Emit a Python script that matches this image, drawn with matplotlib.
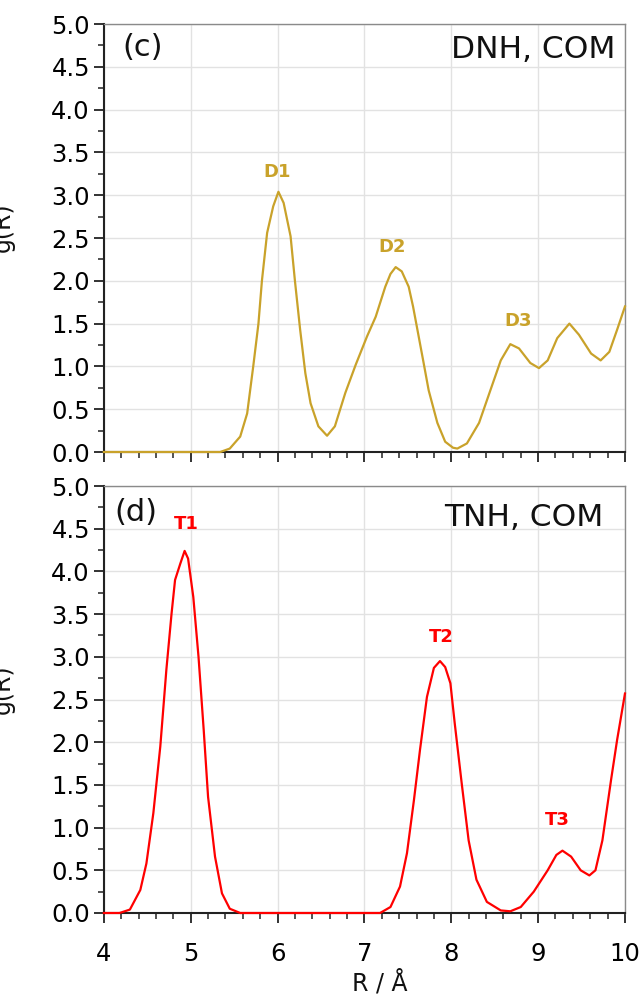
import numpy as np
import matplotlib
matplotlib.use('Agg')
import matplotlib.pyplot as plt
from matplotlib.ticker import MultipleLocator, FormatStrFormatter

# DNH, COM  (panel c)
r_dnh = [4.0, 5.0, 5.34, 5.45, 5.57, 5.65, 5.72, 5.78, 5.82, 5.88, 5.95, 6.01, 6.07, 6.15,
         6.20, 6.26, 6.32, 6.38, 6.47, 6.57, 6.66, 6.78, 6.90, 7.03, 7.13, 7.24, 7.30, 7.36,
         7.43, 7.51, 7.56, 7.61, 7.68, 7.74, 7.84, 7.93, 8.02, 8.07, 8.18, 8.32, 8.45, 8.57,
         8.68, 8.78, 8.91, 9.01, 9.11, 9.22, 9.36, 9.47, 9.61, 9.72, 9.82, 9.91, 10.0]
g_dnh = [0.0, 0.0, 0.0, 0.04, 0.18, 0.45, 1.0, 1.50, 2.0, 2.56, 2.87, 3.04, 2.91, 2.52,
         2.0, 1.43, 0.92, 0.57, 0.30, 0.19, 0.30, 0.69, 1.02, 1.35, 1.58, 1.93, 2.08, 2.16,
         2.11, 1.93, 1.70, 1.43, 1.05, 0.72, 0.34, 0.12, 0.05, 0.04, 0.10, 0.34, 0.72, 1.07,
         1.26, 1.21, 1.04, 0.98, 1.07, 1.33, 1.50, 1.37, 1.15, 1.07, 1.17, 1.43, 1.70]

# TNH, COM  (panel d)
r_tnh = [4.0, 4.18, 4.30, 4.42, 4.49, 4.57, 4.65, 4.72, 4.78, 4.82, 4.88, 4.93, 4.97, 5.03,
         5.09, 5.15, 5.20, 5.28, 5.36, 5.45, 5.57, 7.18, 7.30, 7.41, 7.49, 7.57, 7.64, 7.72,
         7.80, 7.87, 7.93, 7.99, 8.04, 8.12, 8.20, 8.29, 8.41, 8.57, 8.68, 8.80, 8.95, 9.11,
         9.21, 9.28, 9.38, 9.49, 9.59, 9.66, 9.74, 9.84, 9.91, 10.0]
g_tnh = [0.0, 0.0, 0.04, 0.27, 0.58, 1.17, 1.95, 2.85, 3.51, 3.90, 4.09, 4.24, 4.15, 3.70,
         3.0, 2.14, 1.36, 0.66, 0.23, 0.05, 0.0, 0.0, 0.07, 0.31, 0.70, 1.32, 1.91, 2.53,
         2.87, 2.95, 2.88, 2.69, 2.22, 1.52, 0.85, 0.39, 0.13, 0.03, 0.02, 0.07, 0.25, 0.50,
         0.68, 0.73, 0.66, 0.50, 0.44, 0.50, 0.85, 1.56, 2.03, 2.57]

dnh_peaks = ['D1', 'D2', 'D3']
dnh_peak_pos = [(6.0, 3.27), (7.32, 2.39), (8.77, 1.53)]
tnh_peaks = ['T1', 'T2', 'T3']
tnh_peak_pos = [(4.95, 4.55), (7.89, 3.23), (9.22, 1.09)]

gold = '#C9A22A'
red = '#FF0000'

plt.rcParams['font.family'] = ['DejaVu Sans']

fig = plt.figure(figsize=(6.41, 10), dpi=100)
ax_c = fig.add_axes([0.162, 0.548, 0.813, 0.428])
ax_d = fig.add_axes([0.162, 0.087, 0.813, 0.427])


def style_axes(ax, show_xlabels):
    ax.set_xlim(4, 10)
    ax.set_ylim(0, 5)
    ax.xaxis.set_major_locator(MultipleLocator(1))
    ax.xaxis.set_minor_locator(MultipleLocator(0.2))
    ax.yaxis.set_major_locator(MultipleLocator(0.5))
    ax.yaxis.set_minor_locator(MultipleLocator(0.25))
    ax.yaxis.set_major_formatter(FormatStrFormatter('%.1f'))
    ax.grid(True, which='major', color='#e2e2e2', linewidth=1.0)
    ax.set_axisbelow(True)
    ax.tick_params(which='major', direction='out', length=7, width=1.3, labelsize=17.5, color='#222222')
    ax.tick_params(which='minor', direction='out', length=4.5, width=1.1, color='#222222')
    ax.tick_params(axis='y', pad=3)
    ax.tick_params(axis='x', pad=14)
    if not show_xlabels:
        ax.tick_params(axis='x', labelbottom=False)
    for s in ['left', 'bottom']:
        ax.spines[s].set_color('#222222')
        ax.spines[s].set_linewidth(1.5)
    for s in ['top', 'right']:
        ax.spines[s].set_color('#8a8a8a')
        ax.spines[s].set_linewidth(1.0)


style_axes(ax_c, False)
style_axes(ax_d, True)

ax_c.plot(r_dnh, g_dnh, color=gold, linewidth=1.6, clip_on=False, zorder=3)
ax_d.plot(r_tnh, g_tnh, color=red, linewidth=1.6, clip_on=False, zorder=3)

for lab, (x, y) in zip(dnh_peaks, dnh_peak_pos):
    ax_c.text(x, y, lab, color=gold, fontsize=13, fontweight='bold', ha='center', va='center')
for lab, (x, y) in zip(tnh_peaks, tnh_peak_pos):
    ax_d.text(x, y, lab, color=red, fontsize=13, fontweight='bold', ha='center', va='center')

ax_c.text(0.035, 0.946, '(c)', transform=ax_c.transAxes, fontsize=22, ha='left', va='center', color='#111111')
ax_c.text(0.981, 0.94, 'DNH, COM', transform=ax_c.transAxes, fontsize=22.5, ha='right', va='center', color='#111111')
ax_d.text(0.021, 0.937, '(d)', transform=ax_d.transAxes, fontsize=22, ha='left', va='center', color='#111111')
ax_d.text(0.958, 0.927, 'TNH, COM', transform=ax_d.transAxes, fontsize=22.5, ha='right', va='center', color='#111111')

ax_d.set_xlabel('R / Å', fontsize=17, labelpad=3, x=0.53, color='#111111')

# y labels sit partly outside the figure, as in the original
fig.text(0.005, 0.773, 'g(R)', rotation=90, fontsize=17, ha='center', va='center', color='#111111')
fig.text(0.005, 0.311, 'g(R)', rotation=90, fontsize=17, ha='center', va='center', color='#111111')

fig.savefig('out.png', dpi=100)
